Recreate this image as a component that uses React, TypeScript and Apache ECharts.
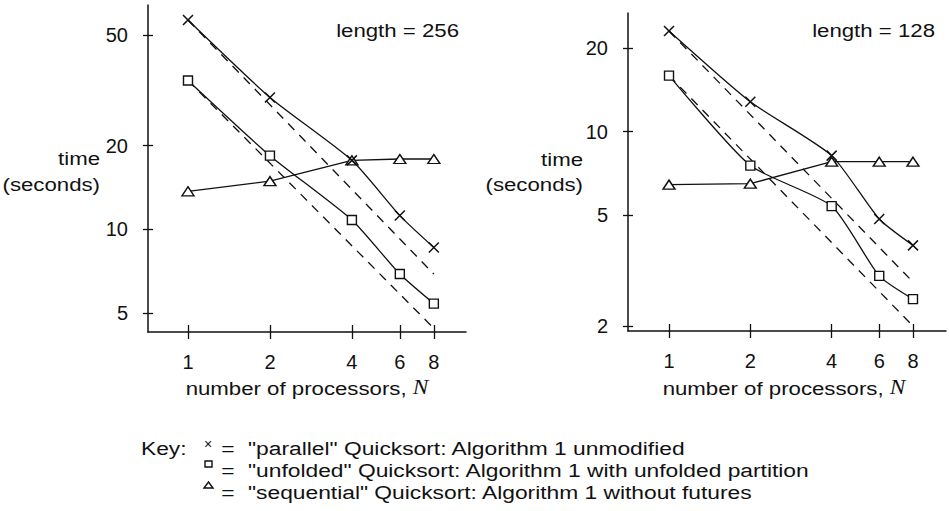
import React, { useEffect, useRef } from "react";
import * as echarts from "echarts";

const processors = [1, 2, 4, 6, 8];
const xTickValues = [1, 2, 4, 6, 8];

// length = 256
const parallel256 = [56.6, 29.8, 17.7, 11.2, 8.6];
const unfolded256 = [34.3, 18.4, 10.8, 6.9, 5.4];
const sequential256 = [13.7, 14.9, 17.7, 17.9, 17.9];
const idealParallel256 = [[1, 56.6], [8, 6.9]];
const idealUnfolded256 = [[1, 34.3], [8, 4.4]];
const yTicks256 = [5, 10, 20, 50];

// length = 128
const parallel128 = [23.0, 12.8, 8.2, 4.85, 3.9];
const unfolded128 = [15.9, 7.55, 5.4, 3.03, 2.5];
const sequential128 = [6.45, 6.5, 7.8, 7.8, 7.8];
const idealParallel128 = [[1, 23.0], [8, 2.88]];
const idealUnfolded128 = [[1, 15.9], [8, 2.0]];
const yTicks128 = [2, 5, 10, 20];

const keyLines = [
  '"parallel" Quicksort: Algorithm 1 unmodified',
  '"unfolded" Quicksort: Algorithm 1 with unfolded partition',
  '"sequential" Quicksort: Algorithm 1 without futures',
];

const FONT = "'Liberation Sans', Arial, Helvetica, sans-serif";
const SERIF = "'Liberation Serif', 'Times New Roman', serif";
const FS = 19;
const SX = 1.17;
const INK = "#111";

const crossPath = "path://M0,0L10,10M10,0L0,10";

const pairs = (ys: number[]) => processors.map((x, i) => [x, ys[i]]);

function buildPanel(idx: number, grid: any, xr: [number, number], yr: [number, number], yTicks: number[], p: number[], u: number[], s: number[], ip: number[][], iu: number[][]) {
  const axisLine = { show: true, onZero: false, lineStyle: { color: INK, width: 1.5 } };
  const tickStyle = { color: INK, width: 1.3 };
  const labelStyle = { color: INK, fontSize: 20, fontFamily: FONT };
  const xAxes = [
    {
      gridIndex: idx,
      type: "log",
      logBase: 10,
      position: "bottom",
      min: xr[0],
      max: xr[1],
      axisLine,
      axisTick: { show: true, inside: false, length: 7, customValues: xTickValues, lineStyle: tickStyle },
      axisLabel: { show: true, customValues: xTickValues, margin: 20, ...labelStyle },
      splitLine: { show: false },
      minorTick: { show: false },
    },
    {
      gridIndex: idx,
      type: "log",
      logBase: 10,
      position: "bottom",
      offset: 0,
      min: xr[0],
      max: xr[1],
      axisLine: { show: false, onZero: false },
      axisTick: { show: true, inside: true, length: 7, customValues: xTickValues, lineStyle: tickStyle },
      axisLabel: { show: false, customValues: xTickValues },
      splitLine: { show: false },
    },
  ];
  const yAxes = [
    {
      gridIndex: idx,
      type: "log",
      logBase: 10,
      position: "left",
      min: yr[0],
      max: yr[1],
      axisLine,
      axisTick: { show: true, inside: false, length: 5, customValues: yTicks, lineStyle: tickStyle },
      axisLabel: { show: true, customValues: yTicks, margin: 20, ...labelStyle },
      splitLine: { show: false },
      minorTick: { show: false },
    },
    {
      gridIndex: idx,
      type: "log",
      logBase: 10,
      position: "left",
      offset: 0,
      min: yr[0],
      max: yr[1],
      axisLine: { show: false, onZero: false },
      axisTick: { show: true, inside: true, length: 5, customValues: yTicks, lineStyle: tickStyle },
      axisLabel: { show: false, customValues: yTicks },
      splitLine: { show: false },
    },
  ];
  const xi = idx * 2;
  const yi = idx * 2;
  const solid = { color: INK, width: 1.3 };
  const dashed = { color: INK, width: 1.3, type: [9, 7] };
  const series = [
    { type: "line", xAxisIndex: xi, yAxisIndex: yi, data: ip, symbol: "none", lineStyle: dashed, z: 1 },
    { type: "line", xAxisIndex: xi, yAxisIndex: yi, data: iu, symbol: "none", lineStyle: dashed, z: 1 },
    {
      type: "line",
      xAxisIndex: xi,
      yAxisIndex: yi,
      data: pairs(s),
      symbol: "triangle",
      symbolSize: [12, 9],
      itemStyle: { color: "#fff", borderColor: INK, borderWidth: 1.4 },
      lineStyle: solid,
      z: 2,
    },
    {
      type: "line",
      xAxisIndex: xi,
      yAxisIndex: yi,
      data: pairs(u),
      smooth: 0.2,
      symbol: "rect",
      symbolSize: 9,
      itemStyle: { color: "#fff", borderColor: INK, borderWidth: 1.4 },
      lineStyle: solid,
      z: 3,
    },
    {
      type: "line",
      xAxisIndex: xi,
      yAxisIndex: yi,
      data: pairs(p),
      smooth: 0.2,
      symbol: crossPath,
      symbolSize: 10,
      itemStyle: { color: "none", borderColor: INK, borderWidth: 1.5 },
      lineStyle: solid,
      z: 4,
    },
  ];
  return { grid, xAxes, yAxes, series };
}

export default function App() {
  const ref = useRef<HTMLDivElement>(null);
  useEffect(() => {
    if (!ref.current) return;
    const chart = echarts.init(ref.current, undefined, { renderer: "svg" });
    const a = buildPanel(0, { left: 148, top: 5, width: 318, height: 327 }, [0.713, 10.5], [4.27, 64.1], yTicks256, parallel256, unfolded256, sequential256, idealParallel256, idealUnfolded256);
    const b = buildPanel(1, { left: 628, top: 13, width: 318, height: 318 }, [0.705, 10.6], [1.92, 26.7], yTicks128, parallel128, unfolded128, sequential128, idealParallel128, idealUnfolded128);

    const txt = (x: number, y: number, text: string, align: string, size = FS, sx = SX) => ({
      type: "text",
      x,
      y,
      scaleX: sx,
      style: { text, fill: INK, font: `${size}px ${FONT}`, textAlign: align, textVerticalAlign: "middle" },
    });
    const axisName = (cx: number, y: number) => ({
      type: "text",
      x: cx,
      y,
      scaleX: SX,
      style: {
        text: "number of processors, {i|N}",
        fill: INK,
        font: `${FS}px ${FONT}`,
        textAlign: "center",
        textVerticalAlign: "middle",
        rich: { i: { fontStyle: "italic", fontFamily: SERIF, fontSize: FS + 1, fill: INK } },
      },
    });

    const KSX = 1.2;
    const keyX = 248;
    const keyYs = [448, 470, 492];
    const graphic: any[] = [
      txt(459, 30, "length = 256", "right"),
      txt(935, 30, "length = 128", "right"),
      txt(100, 158, "time", "right"),
      txt(100, 184, "(seconds)", "right"),
      txt(583, 159, "time", "right"),
      txt(583, 184, "(seconds)", "right"),
      axisName(307, 388),
      axisName(784, 388),
      txt(141, keyYs[0], "Key:", "left", FS, KSX),
      txt(208, keyYs[0] - 4, "\u00d7", "center", 14, 1),
      { type: "rect", shape: { x: 205, y: keyYs[1] - 9, width: 7, height: 6 }, style: { fill: "none", stroke: INK, lineWidth: 1.4 } },
      { type: "polygon", shape: { points: [[208.5, keyYs[2] - 10], [213, keyYs[2] - 4], [204, keyYs[2] - 4]] }, style: { fill: "none", stroke: INK, lineWidth: 1.4 } },
    ];
    keyYs.forEach((y, i) => {
      graphic.push(txt(228, y, "=", "center", FS, KSX));
      graphic.push(txt(keyX, y, keyLines[i], "left", FS, KSX));
    });

    chart.setOption({
      animation: false,
      backgroundColor: "#fff",
      grid: [a.grid, b.grid],
      xAxis: [...a.xAxes, ...b.xAxes],
      yAxis: [...a.yAxes, ...b.yAxes],
      series: [...a.series, ...b.series],
      graphic,
    } as any);
    return () => chart.dispose();
  }, []);
  return <div ref={ref} style={{ position: "absolute", left: 0, top: 0, width: 949, height: 511 }} />;
}
